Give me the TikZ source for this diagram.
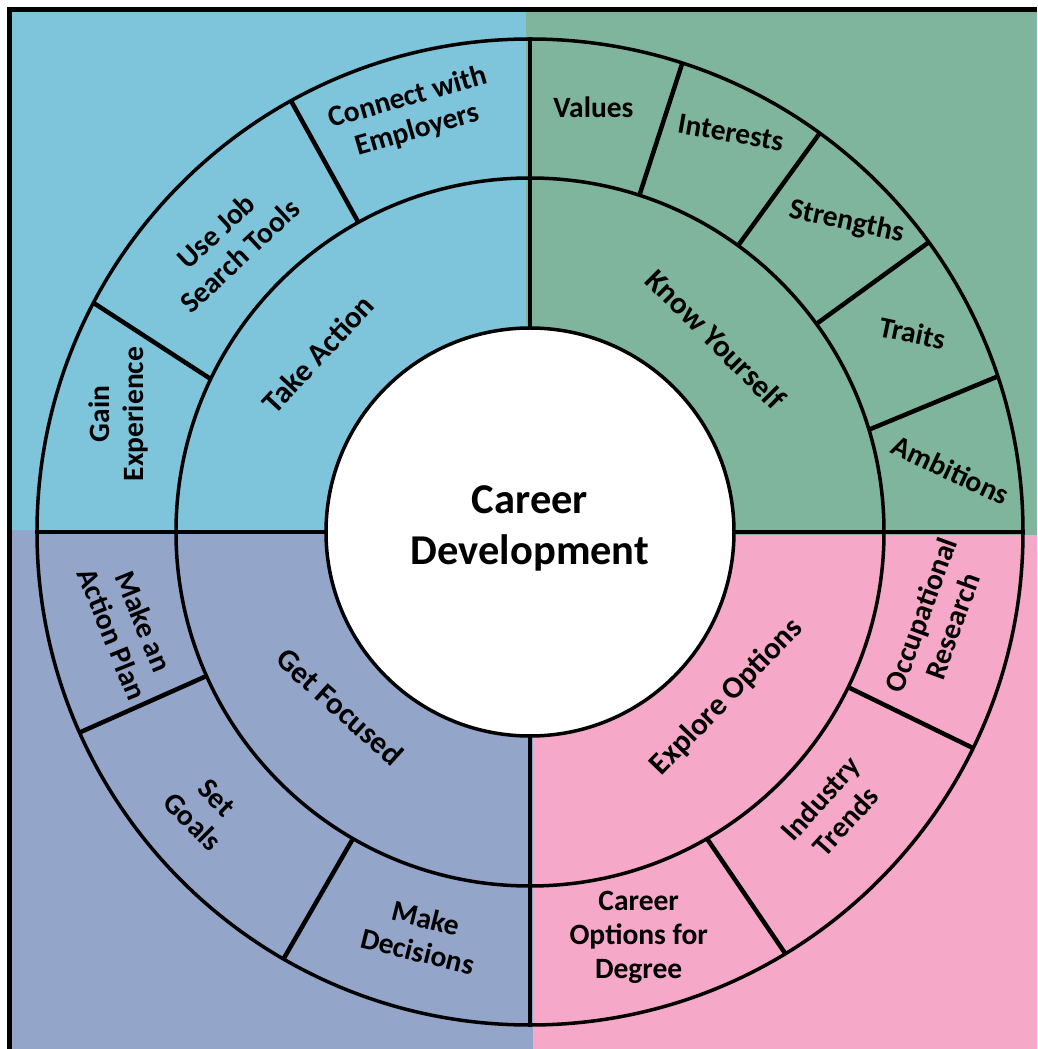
\documentclass[tikz,border=0pt]{standalone}
\usepackage{fontspec}
\setmainfont{Carlito}

\definecolor{actionblue}{RGB}{126,196,218}
\definecolor{selfgreen}{RGB}{127,181,157}
\definecolor{focuslilac}{RGB}{148,165,202}
\definecolor{optionpink}{RGB}{245,168,200}

\begin{document}
\begin{tikzpicture}[x=1pt, y=1pt,
  ringline/.style={line width=3.5pt},
  divline/.style={line width=4.5pt},
  hublabel/.style={font=\fontsize{42.5}{51}\selectfont\bfseries, align=center},
  ringlabel/.style={font=\fontsize{31}{36}\selectfont\bfseries},
  leaflabel/.style={font=\fontsize{29.5}{34}\selectfont\bfseries, align=center}]
  \useasboundingbox (-530,-517) rectangle (507,532);

  % Quadrant backgrounds
  \fill[actionblue] (-518,2) rectangle (-4,520);
  \fill[selfgreen] (-4,-3) rectangle (507,520);
  \fill[focuslilac] (-518,-517) rectangle (3,2);
  \fill[optionpink] (3,-517) rectangle (507,-3);

  % Frame
  \draw[line width=5pt] (-520.5,-517) -- (-520.5,522.5) -- (507,522.5);

  % Rings
  \draw[ringline] (0,0) circle[radius=493];
  \draw[ringline] (0,0) circle[radius=354];

  % Quadrant dividers
  \draw[divline] (0,204) -- (0,493);
  \draw[divline] (0,-204) -- (0,-493);
  \draw[divline] (-204,0) -- (-493,0);
  \draw[divline] (204,0) -- (493,0);

  % Take Action
  \draw[divline] (119:354) -- (119:493);
  \draw[divline] (154.4:354) -- (152.3:493);

  % Know Yourself
  \draw[divline] (72:354) -- (72:493);
  \draw[divline] (54:354) -- (54:493);
  \draw[divline] (36:354) -- (36:493);
  \draw[divline] (16.8:354) -- (18.4:493);

  % Get Focused
  \draw[divline] (204:354) -- (204:493);
  \draw[divline] (240:354) -- (240:493);

  % Explore Options
  \draw[divline] (300:354) -- (301.2:493);
  \draw[divline] (334:354) -- (334:493);

  % Hub
  \draw[ringline, fill=white] (0,0) circle[radius=204];
  \node[hublabel] (hub) at (0,4) {Career\\Development};

  % Middle ring
  \node[ringlabel, rotate=47] (action) at (140:277) {Take Action};
  \node[ringlabel, rotate=-45] (self) at (46:268) {Know Yourself};
  \node[ringlabel, rotate=-42] (focus) at (222.6:258) {Get Focused};
  \node[ringlabel, rotate=46] (options) at (-40:257) {Explore Options};

  % Outer ring
  \node[leaflabel, rotate=16] (employers) at (105.7:434) {Connect with\\Employers};
  \node[leaflabel, rotate=43] (jobtools) at (136.3:418) {Use Job\\Search Tools};
  \node[leaflabel, rotate=90] (experience) at (164:428) {Gain\\Experience};

  \node[leaflabel] (values) at (81.5:429) {Values};
  \node[leaflabel, rotate=-10] (interests) at (63.3:447) {Interests};
  \node[leaflabel, rotate=-12] (strengths) at (44.4:443) {Strengths};
  \node[leaflabel, rotate=-12] (traits) at (27.5:431) {Traits};
  \node[leaflabel, rotate=-25] (ambitions) at (8.4:425) {Ambitions};

  \node[leaflabel, rotate=-68] (plan) at (193.4:413) {Make an\\Action Plan};
  \node[leaflabel, rotate=-45] (goals) at (220.5:428) {Set\\Goals};
  \node[leaflabel, rotate=-14] (decisions) at (255:417) {Make\\Decisions};

  \node[leaflabel] (degree) at (285:420) {Career\\Options for\\Degree};
  \node[leaflabel, rotate=48] (trends) at (-42.5:411) {Industry\\Trends};
  \node[leaflabel, rotate=70] (research) at (-12.3:416) {Occupational\\Research};
\end{tikzpicture}
\end{document}
